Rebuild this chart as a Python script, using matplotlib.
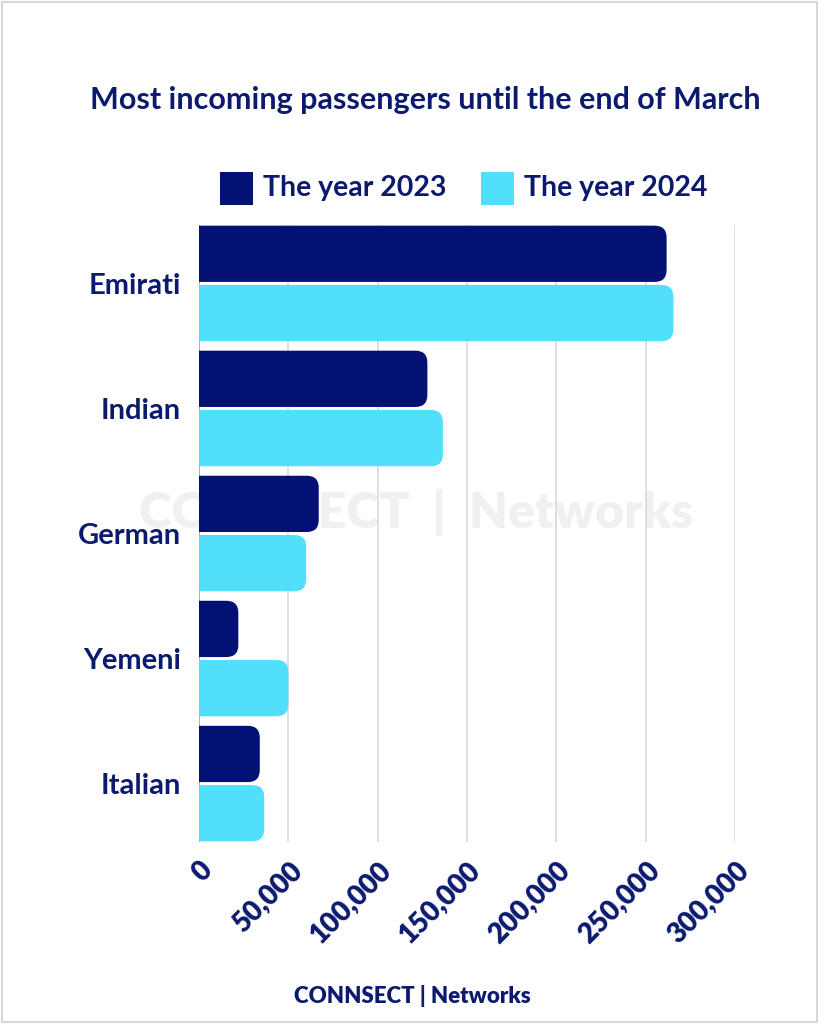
import matplotlib
matplotlib.use("Agg")
import matplotlib.pyplot as plt
from matplotlib.patches import FancyBboxPatch, Rectangle
from matplotlib.transforms import IdentityTransform

# data
countries = ["Emirati", "Indian", "German", "Yemeni", "Italian"]
y2023 = [261700, 127800, 67000, 22000, 34000]
y2024 = [265500, 136500, 60000, 50000, 36500]
xticks = [0, 50000, 100000, 150000, 200000, 250000, 300000]
series_names = ["The year 2023", "The year 2024"]

navy = "#021173"
cyan = "#52DFFC"
text_col = "#0B1A6E"

plt.rcParams["font.family"] = ["Lato", "DejaVu Sans"]

fig = plt.figure(figsize=(8.19, 10.24), dpi=100)
fig.patches.append(Rectangle((0.003, 0.002), 0.994, 0.996, transform=fig.transFigure,
                             fill=False, edgecolor="#d8d8d8", lw=1.5))

ax = fig.add_axes([0.243, 0.178, 0.6545, 0.602])
ax.set_facecolor("none")
ax.set_xlim(0, 300000)
ax.set_ylim(4.465, -0.465)

bh = 0.45
gap = 0.024
pos = list(range(len(countries)))
b1 = ax.barh([p - (bh + gap) / 2 for p in pos], y2023, height=bh, color=navy)
b2 = ax.barh([p + (bh + gap) / 2 for p in pos], y2024, height=bh, color=cyan)

# swap bars for boxes with rounded right ends (drawn in pixels, clipped at x=0)
r = 12
for bars in (b1, b2):
    for b in bars:
        (x0, y0), (x1, y1) = ax.transData.transform(
            [(b.get_x(), b.get_y()), (b.get_x() + b.get_width(), b.get_y() + b.get_height())])
        ylo, yhi = min(y0, y1), max(y0, y1)
        p = FancyBboxPatch((x0 - 3 * r, ylo), x1 - x0 + 3 * r, yhi - ylo,
                           boxstyle=f"round,pad=0,rounding_size={r}",
                           transform=IdentityTransform(),
                           facecolor=b.get_facecolor(), edgecolor="none", zorder=3)
        ax.add_patch(p)
        p.set_clip_box(ax.bbox)
        b.set_visible(False)

ax.set_xticks(xticks)
ax.set_xticklabels([f"{v:,}" for v in xticks], rotation=45, ha="right", va="top",
                   rotation_mode="anchor", fontsize=20, fontweight="heavy", color=text_col)
ax.set_yticks(pos)
ax.set_yticklabels(countries, fontsize=21, fontweight="bold", color=text_col)
ax.tick_params(axis="both", length=0)
ax.tick_params(axis="x", pad=11)
ax.tick_params(axis="y", pad=13)
ax.grid(axis="x", color="#d9d9d9", lw=1.2, zorder=1)
ax.set_axisbelow(True)
for s in ax.spines.values():
    s.set_visible(False)
ax.axvline(0, color="#b0b0b0", lw=1.5, zorder=2)

# watermark
fig.text(0.508, 0.5, "CONNSECT  |  Networks", ha="center", va="center", fontsize=36,
         fontweight="heavy", color="#f0f0f3", zorder=-1)

fig.text(0.519, 0.902, "Most incoming passengers until the end of March", ha="center",
         va="center", fontsize=22, fontweight="bold", color=text_col)

# legend
for x, name, c in zip([0.2686, 0.587], series_names, [navy, cyan]):
    fig.patches.append(Rectangle((x, 0.8), 0.04, 0.0322, transform=fig.transFigure,
                                 facecolor=c, edgecolor="none"))
    fig.text(x + 0.0525, 0.816, name, ha="left", va="center", fontsize=20.5,
             fontweight="bold", color=text_col)

fig.text(0.504, 0.027, "CONNSECT | Networks", ha="center", va="center", fontsize=16,
         fontweight="heavy", color=text_col)

fig.savefig("out.png", dpi=100, facecolor="white")
